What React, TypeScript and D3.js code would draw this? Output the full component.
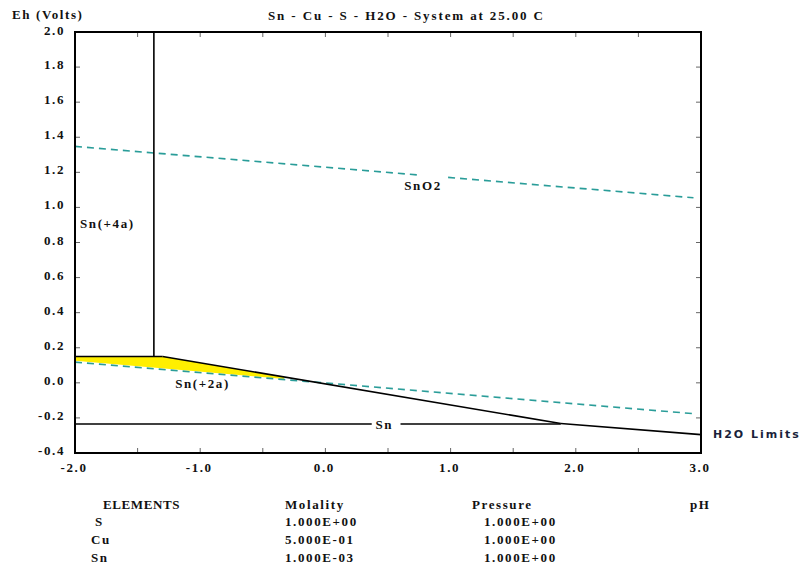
import React from "react";
import * as d3 from "d3";

// ---- data ----
const phDomain: [number, number] = [-2, 3];
const ehDomain: [number, number] = [-0.4, 2.0];
const phMinorTicks = [-2, -1.5, -1, -0.5, 0, 0.5, 1, 1.5, 2, 2.5, 3];
const phLabelTicks = [-2, -1, 0, 1, 2, 3];
const ehTicks = [-0.4, -0.2, 0, 0.2, 0.4, 0.6, 0.8, 1.0, 1.2, 1.4, 1.6, 1.8, 2.0];

const sn4Sn2Line: [number, number][] = [[-2, 0.15], [-1.3, 0.15]];
const sn4SnO2Line: [number, number][] = [[-1.37, 2.0], [-1.37, 0.15]];
const sn2SnO2Line: [number, number][] = [[-1.3, 0.15], [1.88, -0.232]];
const snO2SnLine: [number, number][] = [[1.88, -0.232], [3.0, -0.295]];
const sn2SnLineA: [number, number][] = [[-2, -0.235], [0.37, -0.235]];
const sn2SnLineB: [number, number][] = [[0.6, -0.235], [1.88, -0.235]];
const waterUpperA: [number, number][] = [[-2, 1.348], [0.76, 1.184]];
const waterUpperB: [number, number][] = [[0.98, 1.171], [2.94, 1.055]];
const waterLower: [number, number][] = [[-2, 0.118], [2.94, -0.176]];
const yellowArea: [number, number][] = [
  [-2, 0.15], [-1.3, 0.15], [-0.33, 0.034], [-0.33, 0.022], [-2, 0.126],
];

const regionLabels = [
  { text: "Sn(+4a)", ph: -1.96, eh: 0.88 },
  { text: "SnO2", ph: 0.63, eh: 1.1 },
  { text: "Sn(+2a)", ph: -1.2, eh: -0.03 },
  { text: "Sn", ph: 0.4, eh: -0.265 },
];

const tableHeaders = ["ELEMENTS", "Molality", "Pressure", "pH"];
const elements = ["S", "Cu", "Sn"];
const molalities = ["1.000E+00", "5.000E-01", "1.000E-03"];
const pressures = ["1.000E+00", "1.000E+00", "1.000E+00"];

export default function App() {
  const left = 75, right = 701, top = 32, bottom = 453;
  const x = d3.scaleLinear().domain(phDomain).range([left, right]);
  const y = d3.scaleLinear().domain(ehDomain).range([bottom, top]);
  const line = d3.line<[number, number]>().x((d) => x(d[0])).y((d) => y(d[1]));

  const tp = {
    fontFamily: "Liberation Serif",
    fontWeight: 700,
    fontSize: 13,
    letterSpacing: 1.6,
    fill: "#111",
  } as const;
  const teal = "#2a9d99";
  const headerX = [103, 285, 472, 690];
  const rowY = [526, 544, 562];

  return (
    <svg width={801} height={570} style={{ position: "absolute", left: 0, top: 0, background: "#fff" }}>
      <rect x={0} y={0} width={801} height={570} fill="#fff" />
      <path d={line(yellowArea) + "Z"} fill="#ffef00" stroke="none" />

      {phMinorTicks.map((t) => (
        <g key={"px" + t} stroke="#666" strokeWidth={1}>
          <line x1={x(t)} x2={x(t)} y1={top} y2={top + 5} />
          <line x1={x(t)} x2={x(t)} y1={bottom} y2={bottom - 5} />
        </g>
      ))}
      {ehTicks.map((t) => (
        <g key={"ey" + t} stroke="#666" strokeWidth={1}>
          <line x1={left} x2={left + 5} y1={y(t)} y2={y(t)} />
          <line x1={right} x2={right - 5} y1={y(t)} y2={y(t)} />
        </g>
      ))}

      {[waterUpperA, waterUpperB, waterLower].map((d, i) => (
        <path key={"w" + i} d={line(d) || ""} fill="none" stroke={teal} strokeWidth={1.6} strokeDasharray="7,5" />
      ))}

      {[sn4Sn2Line, sn4SnO2Line, sn2SnO2Line, snO2SnLine, sn2SnLineA, sn2SnLineB].map((d, i) => (
        <path key={"b" + i} d={line(d) || ""} fill="none" stroke="#000" strokeWidth={1.6} />
      ))}

      <rect x={left} y={top} width={right - left} height={bottom - top} fill="none" stroke="#000" strokeWidth={2} />

      {ehTicks.map((t) => (
        <text key={"el" + t} x={left - 10} y={y(t) + (t === 2 ? 3 : 2)} textAnchor="end" {...tp}>
          {t.toFixed(1)}
        </text>
      ))}
      {phLabelTicks.map((t) => (
        <text key={"pl" + t} x={x(t) - 1} y={472} textAnchor="middle" {...tp}>
          {t.toFixed(1)}
        </text>
      ))}

      {regionLabels.map((l) => (
        <text key={l.text} x={x(l.ph)} y={y(l.eh)} {...tp}>
          {l.text}
        </text>
      ))}
      <text x={713} y={438} fontFamily="DejaVu Sans" fontWeight={700} fontSize={11} letterSpacing={2} fill="#1a1f3a">
        H2O Limits
      </text>

      <text x={12} y={19} {...tp}>Eh (Volts)</text>
      <text x={268} y={20} {...tp} letterSpacing={0} textLength={275} lengthAdjust="spacing">
        Sn - Cu - S - H2O - System at 25.00 C
      </text>

      {tableHeaders.map((h, i) => (
        <text key={h} x={headerX[i]} y={509} {...tp} letterSpacing={h === "ELEMENTS" ? 0.6 : 1.6}>{h}</text>
      ))}
      {elements.map((e, i) => (
        <g key={e}>
          <text x={e === "S" ? 95 : 91} y={rowY[i]} {...tp}>{e}</text>
          <text x={285} y={rowY[i]} {...tp}>{molalities[i]}</text>
          <text x={484} y={rowY[i]} {...tp}>{pressures[i]}</text>
        </g>
      ))}
    </svg>
  );
}
